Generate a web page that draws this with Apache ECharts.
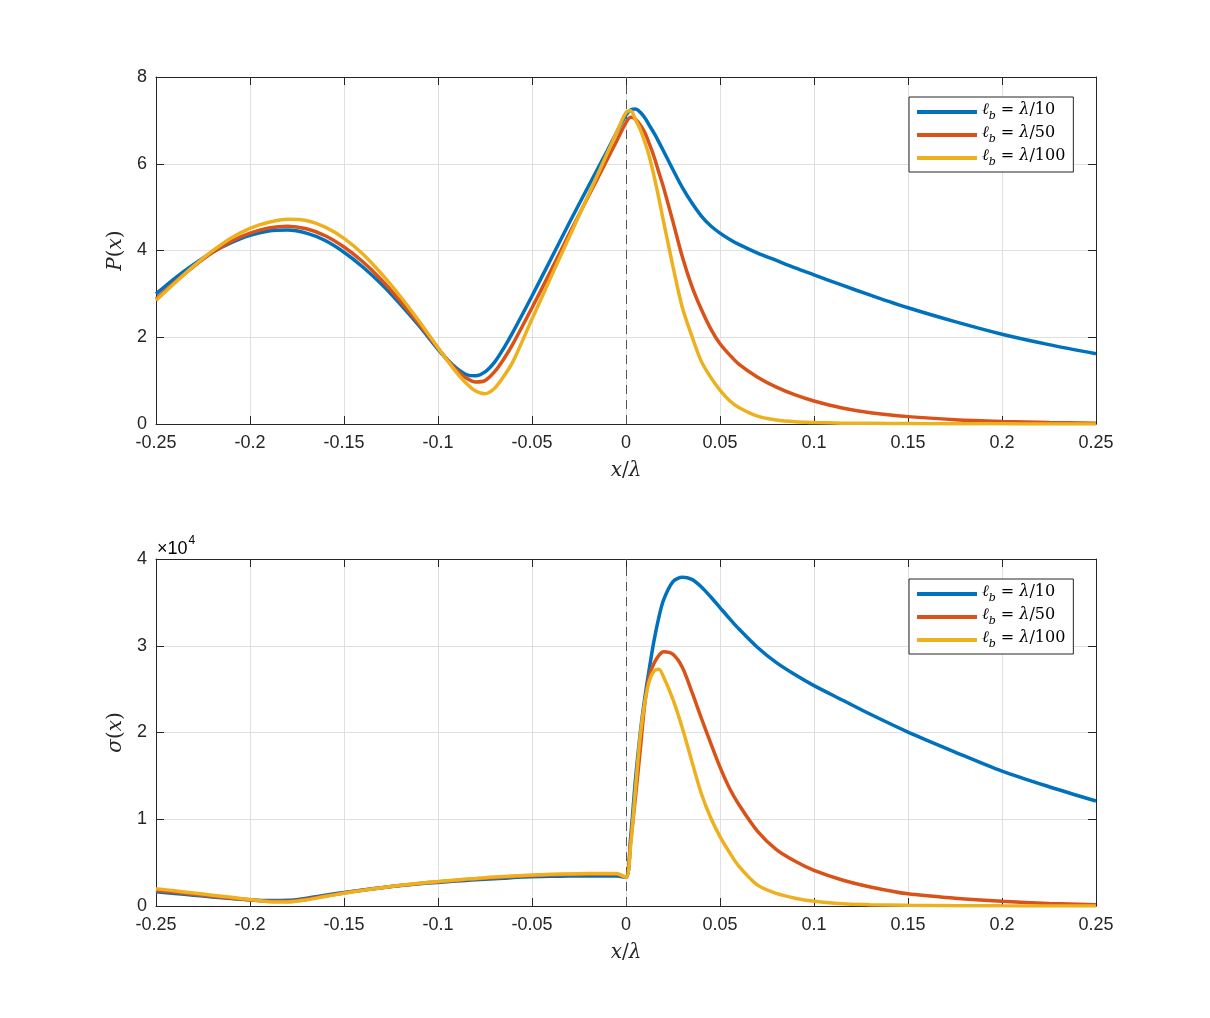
<!DOCTYPE html>
<html>
<head>
<meta charset="utf-8">
<script src="https://cdn.jsdelivr.net/npm/echarts@6/dist/echarts.min.js"></script>
<style>
html,body{margin:0;padding:0;background:#fff;}
#c{width:1210px;height:1018px;}
</style>
</head>
<body>
<div id="c"></div>
<script>
// x / lambda sample positions
const xs = [-0.25,-0.24,-0.23,-0.22,-0.21,-0.20,-0.19,-0.18,-0.17,-0.16,-0.15,-0.14,-0.13,-0.12,-0.11,-0.10,-0.095,-0.09,-0.085,-0.08,-0.075,-0.07,-0.065,-0.06,-0.05,-0.04,-0.03,-0.02,-0.01,-0.005,0,0.0025,0.005,0.0075,0.01,0.0125,0.015,0.0175,0.02,0.025,0.03,0.035,0.04,0.045,0.05,0.055,0.06,0.07,0.08,0.09,0.1,0.115,0.13,0.15,0.175,0.2,0.225,0.25];

// P(x)
const P_10 = [3.0,3.36,3.68,3.96,4.18,4.35,4.45,4.47,4.40,4.23,3.96,3.62,3.22,2.76,2.26,1.72,1.48,1.28,1.14,1.11,1.2,1.42,1.75,2.13,2.95,3.8,4.65,5.48,6.3,6.72,7.12,7.24,7.26,7.19,7.06,6.88,6.7,6.5,6.29,5.86,5.45,5.1,4.8,4.57,4.4,4.26,4.14,3.94,3.77,3.6,3.44,3.2,2.97,2.68,2.36,2.07,1.83,1.62];
const P_50 = [2.88,3.27,3.63,3.95,4.21,4.4,4.52,4.56,4.5,4.34,4.08,3.74,3.32,2.83,2.3,1.75,1.48,1.24,1.06,0.97,1.0,1.2,1.5,1.86,2.68,3.53,4.4,5.25,6.1,6.52,6.95,7.07,7.03,6.9,6.72,6.45,6.15,5.8,5.45,4.66,3.85,3.18,2.65,2.2,1.85,1.6,1.38,1.08,0.85,0.67,0.53,0.37,0.26,0.17,0.1,0.06,0.035,0.02];
const P_100 = [2.85,3.25,3.64,3.99,4.29,4.51,4.65,4.72,4.69,4.54,4.28,3.92,3.46,2.94,2.37,1.76,1.46,1.18,0.94,0.76,0.7,0.82,1.1,1.45,2.42,3.38,4.33,5.28,6.24,6.72,7.18,7.22,7.02,6.8,6.5,6.15,5.7,5.2,4.66,3.63,2.68,2.03,1.45,1.08,0.78,0.54,0.38,0.18,0.09,0.05,0.035,0.02,0.015,0.01,0.005,0.003,0.002,0.001];

// sigma(x)
const S_10 = [1650,1450,1250,1050,870,720,630,650,900,1250,1570,1850,2100,2350,2550,2720,2800,2880,2950,3020,3080,3150,3200,3280,3370,3420,3450,3470,3470,3460,3300,8000,14500,19800,24000,27500,30700,33300,35300,37400,37900,37650,36800,35650,34400,33150,31950,29800,28050,26650,25400,23750,22100,20050,17750,15550,13750,12100];
const S_50 = [1800,1580,1350,1120,900,700,550,550,800,1150,1500,1820,2100,2370,2600,2780,2870,2960,3040,3120,3190,3260,3330,3400,3500,3570,3620,3650,3660,3650,3300,7500,12500,17800,23300,26600,28000,28900,29300,29000,27500,24700,21700,18800,16000,13600,11700,8600,6500,5150,4100,3000,2200,1400,900,550,300,150];
const S_100 = [2000,1750,1500,1250,1000,750,500,450,700,1100,1460,1800,2100,2380,2620,2820,2920,3010,3100,3180,3260,3340,3410,3470,3570,3650,3700,3740,3760,3760,3300,7000,13400,19500,23500,26000,27100,27300,26400,23800,20500,16700,13000,10200,8000,6200,4600,2400,1450,900,550,250,150,80,40,20,10,5];

const seriesNames = ['λ/10','λ/50','λ/100'];
const legendDen = {'λ/10':'10','λ/50':'50','λ/100':'100'};
const colors = ['#0072BD','#D95319','#EDB120'];
const xTicks = [-0.25,-0.2,-0.15,-0.1,-0.05,0,0.05,0.1,0.15,0.2,0.25];

const axisColor = '#262626';
const gridColor = '#dfdfdf';
const sans = 'Liberation Sans, Arial, Helvetica, sans-serif';
const serif = 'DejaVu Serif, Liberation Serif, serif';

function pairs(arr){ return xs.map((x,i)=>[x, arr[i]]); }

function xAxisCfg(gi, top){
  return {
    type:'value', gridIndex:gi, min:-0.25, max:0.25, interval:0.05,
    position: top ? 'top' : 'bottom',
    axisLine:{show:true, onZero:false, lineStyle:{color:axisColor, width:1}},
    axisTick:{show:true, inside:true, length:8, lineStyle:{color:axisColor}},
    axisLabel: top ? {show:false} : {show:true, color:axisColor, fontFamily:sans, fontSize:18, margin:10,
      formatter:function(v){ const r = Math.round(v*100)/100; return xTicks.indexOf(r) >= 0 ? String(r) : ''; }},
    splitLine: top ? {show:false} : {show:true, lineStyle:{color:gridColor, width:1}},
    name: top ? '' : '{i|x}{t|/}{i|λ}',
    nameLocation:'middle', nameGap:37,
    nameTextStyle:{rich:{
      i:{fontFamily:serif, fontStyle:'italic', fontSize:20, color:axisColor},
      t:{fontFamily:serif, fontSize:20, color:axisColor}
    }}
  };
}
function yAxisCfg(gi, right, max, interval, fmt, nameStr){
  return {
    type:'value', gridIndex:gi, min:0, max:max, interval:interval,
    position: right ? 'right' : 'left',
    axisLine:{show:true, onZero:false, lineStyle:{color:axisColor, width:1}},
    axisTick:{show:true, inside:true, length:8, lineStyle:{color:axisColor}},
    axisLabel: right ? {show:false} : {show:true, color:axisColor, fontFamily:sans, fontSize:18, margin:9, formatter:fmt},
    splitLine: right ? {show:false} : {show:true, lineStyle:{color:gridColor, width:1}},
    name: right ? '' : nameStr,
    nameLocation:'middle', nameGap:23, nameRotate:90,
    nameTextStyle:{rich:{
      i:{fontFamily:serif, fontStyle:'italic', fontSize:20, color:axisColor},
      t:{fontFamily:serif, fontSize:20, color:axisColor}
    }}
  };
}

function legendCfg(top){
  return {
    data: seriesNames,
    orient:'vertical', left:909, top:top,
    itemWidth:60, itemHeight:14, itemGap:3, itemTextGap:5,
    padding:[5,8,4,8],
    borderColor:'#262626', borderWidth:1, backgroundColor:'#fff',
    icon:'path://M0,0 L60,0 L60,4 L0,4 Z',
    formatter:function(name){ return '{i|ℓ}{s|b}{t| = }{i|λ}{t|/' + legendDen[name] + '}'; },
    textStyle:{color:'#000', rich:{
      i:{fontFamily:serif, fontStyle:'italic', fontSize:16, lineHeight:20, verticalAlign:'top', color:'#000'},
      t:{fontFamily:serif, fontSize:16, lineHeight:20, verticalAlign:'top', color:'#000'},
      s:{fontFamily:serif, fontStyle:'italic', fontSize:11, lineHeight:12, padding:[9,0,0,0], verticalAlign:'top', color:'#000'}
    }}
  };
}

function makeSeries(name, data, xi, yi, color, withMark){
  const s = {
    name:name, type:'line', xAxisIndex:xi, yAxisIndex:yi, data:data,
    showSymbol:false, symbol:'none', smooth:0.3,
    lineStyle:{color:color, width:3.5}, itemStyle:{color:color},
    z:3
  };
  if (withMark){
    s.markLine = {silent:true, symbol:['none','none'], label:{show:false},
      lineStyle:{color:'#555', type:[9,6], width:1}, data:[{xAxis:0}], z:2};
  }
  return s;
}

const chart = echarts.init(document.getElementById('c'), null, {renderer:'canvas'});
const P = [P_10, P_50, P_100];
const S = [S_10, S_50, S_100];
const series = [];
seriesNames.forEach((n,k)=>{ series.push(makeSeries(n, pairs(P[k]), 0, 0, colors[k], k===0)); });
seriesNames.forEach((n,k)=>{ series.push(makeSeries(n, pairs(S[k]), 2, 2, colors[k], k===0)); });

chart.setOption({
  animation:false,
  backgroundColor:'#fff',
  grid:[
    {left:156, width:940, top:77, height:347, containLabel:false},
    {left:156, width:940, top:559, height:347, containLabel:false}
  ],
  xAxis:[xAxisCfg(0,false), xAxisCfg(0,true), xAxisCfg(1,false), xAxisCfg(1,true)],
  yAxis:[
    yAxisCfg(0,false,8,2,function(v){return String(v);}, '{i|P}{t|(}{i|x}{t|)}'),
    yAxisCfg(0,true,8,2,null,''),
    yAxisCfg(1,false,40000,10000,function(v){return String(v/10000);}, '{i|σ}{t|(}{i|x}{t|)}'),
    yAxisCfg(1,true,40000,10000,null,'')
  ],
  legend:[legendCfg(97), legendCfg(579)],
  series:series,
  graphic:[{
    type:'text', left:157, top:535,
    style:{
      text:'{a|×10}{b|4}',
      rich:{
        a:{fontFamily:sans, fontSize:18, color:axisColor, lineHeight:22, verticalAlign:'bottom'},
        b:{fontFamily:sans, fontSize:12, color:axisColor, lineHeight:12, padding:[0,0,11,1], verticalAlign:'bottom'}
      }
    }
  }]
});
</script>
</body>
</html>
